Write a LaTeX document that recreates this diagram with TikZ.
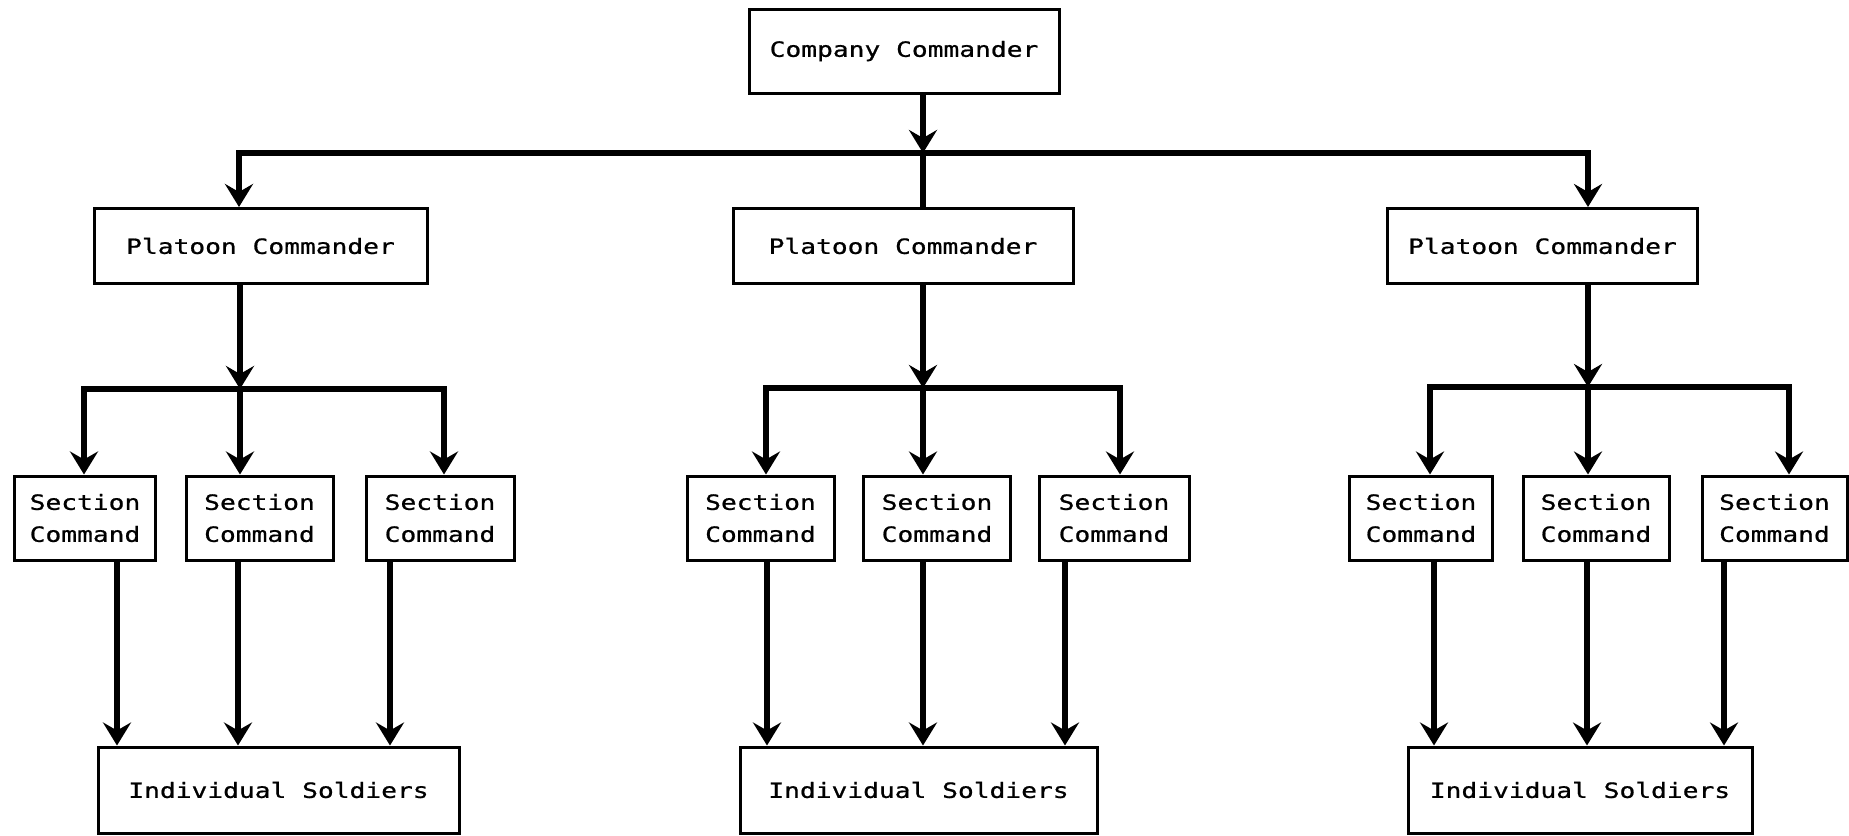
\documentclass[tikz,border=0pt]{standalone}
\usepackage{fontspec}
\usepackage{tikz}
\usetikzlibrary{arrows.meta,calc}
\newfontfamily\plotfont[FakeStretch=1.25,FakeBold=0.8]{DejaVu Sans Mono}

\tikzset{
    box/.style={draw, line width=1.5pt, inner sep=0pt, align=center,
        font=\plotfont\fontsize{10.5}{16}\selectfont},
    conn/.style={line width=3pt},
    arr/.style={conn, -{Stealth[length=11.5pt,width=14pt,inset=4pt]}}
}

\begin{document}
\begin{tikzpicture}[x=0.5pt,y=0.5pt,yscale=-1,xscale=1]
        \useasboundingbox (0,0) rectangle (1849,836);
        % Text Node
        \node [box, minimum width=155pt, minimum height=42pt] (comp) at (904,51) {Company Commander};
        % Text Node
        \node [box, minimum width=166.5pt, minimum height=37.5pt] (plt1) at (260.5,246) {Platoon Commander};
        \node [box, minimum width=170pt, minimum height=37.5pt] (plt2) at (903,246) {Platoon Commander};
        \node [box, minimum width=155pt, minimum height=37.5pt] (plt3) at (1542.5,246) {Platoon Commander};
        % Text Node
        \node [box, minimum width=70.5pt, minimum height=42pt] (sec11) at (85,518) {Section\\Command};
        \node [box, minimum width=73.5pt, minimum height=42pt] (sec12) at (259.5,518) {Section\\Command};
        \node [box, minimum width=74pt, minimum height=42pt] (sec13) at (440,518) {Section\\Command};
        \node [box, minimum width=73.5pt, minimum height=42pt] (sec21) at (760.5,518) {Section\\Command};
        \node [box, minimum width=73.5pt, minimum height=42pt] (sec22) at (937,518) {Section\\Command};
        \node [box, minimum width=75pt, minimum height=42pt] (sec23) at (1114,518) {Section\\Command};
        \node [box, minimum width=71.5pt, minimum height=42pt] (sec31) at (1421,518) {Section\\Command};
        \node [box, minimum width=73pt, minimum height=42pt] (sec32) at (1596,518) {Section\\Command};
        \node [box, minimum width=72.5pt, minimum height=42pt] (sec33) at (1774.5,518) {Section\\Command};
        % Text Node
        \node [box, minimum width=180.5pt, minimum height=43pt] (sol1) at (278.5,790) {Individual Soldiers};
        \node [box, minimum width=178.5pt, minimum height=43pt] (sol2) at (918.5,790) {Individual Soldiers};
        \node [box, minimum width=172pt, minimum height=43pt] (sol3) at (1580,790) {Individual Soldiers};

        % bus points
        \coordinate (top) at (923,153);
        \coordinate (b1) at (239,153);
        \coordinate (b3) at (1588,153);
        \coordinate (l1) at (84,389);
        \coordinate (j1) at (240,389);
        \coordinate (r1) at (444,389);
        \coordinate (l2) at (766,388);
        \coordinate (j2) at (923,388);
        \coordinate (r2) at (1120,388);
        \coordinate (l3) at (1430,387);
        \coordinate (j3) at (1588,387);
        \coordinate (r3) at (1789,387);
        % drop points
        \coordinate (d11) at (117,650);
        \coordinate (d12) at (238,650);
        \coordinate (d13) at (390,650);
        \coordinate (d21) at (767,650);
        \coordinate (d22) at (923,650);
        \coordinate (d23) at (1065,650);
        \coordinate (d31) at (1434,650);
        \coordinate (d32) at (1587,650);
        \coordinate (d33) at (1724,650);

        %Straight Lines
        \draw [arr] (comp.south -| top) -- (top);
        \draw [arr] (top) -- (b1) -- (b1 |- plt1.north);
        \draw [arr] (top) -- (b3) -- (b3 |- plt3.north);
        \draw [conn] (top) -- (top |- plt2.north);
        %Straight Lines
        \draw [arr] (plt1.south -| j1) -- (j1);
        \draw [arr] (j1) -- (l1) -- (l1 |- sec11.north);
        \draw [arr] (j1) -- (j1 |- sec12.north);
        \draw [arr] (j1) -- (r1) -- (r1 |- sec13.north);
        \draw [arr] (plt2.south -| j2) -- (j2);
        \draw [arr] (j2) -- (l2) -- (l2 |- sec21.north);
        \draw [arr] (j2) -- (j2 |- sec22.north);
        \draw [arr] (j2) -- (r2) -- (r2 |- sec23.north);
        \draw [arr] (plt3.south -| j3) -- (j3);
        \draw [arr] (j3) -- (l3) -- (l3 |- sec31.north);
        \draw [arr] (j3) -- (j3 |- sec32.north);
        \draw [arr] (j3) -- (r3) -- (r3 |- sec33.north);
        %Straight Lines
        \draw [arr] (sec11.south -| d11) -- (d11 |- sol1.north);
        \draw [arr] (sec12.south -| d12) -- (d12 |- sol1.north);
        \draw [arr] (sec13.south -| d13) -- (d13 |- sol1.north);
        \draw [arr] (sec21.south -| d21) -- (d21 |- sol2.north);
        \draw [arr] (sec22.south -| d22) -- (d22 |- sol2.north);
        \draw [arr] (sec23.south -| d23) -- (d23 |- sol2.north);
        \draw [arr] (sec31.south -| d31) -- (d31 |- sol3.north);
        \draw [arr] (sec32.south -| d32) -- (d32 |- sol3.north);
        \draw [arr] (sec33.south -| d33) -- (d33 |- sol3.north);
\end{tikzpicture}
\end{document}
